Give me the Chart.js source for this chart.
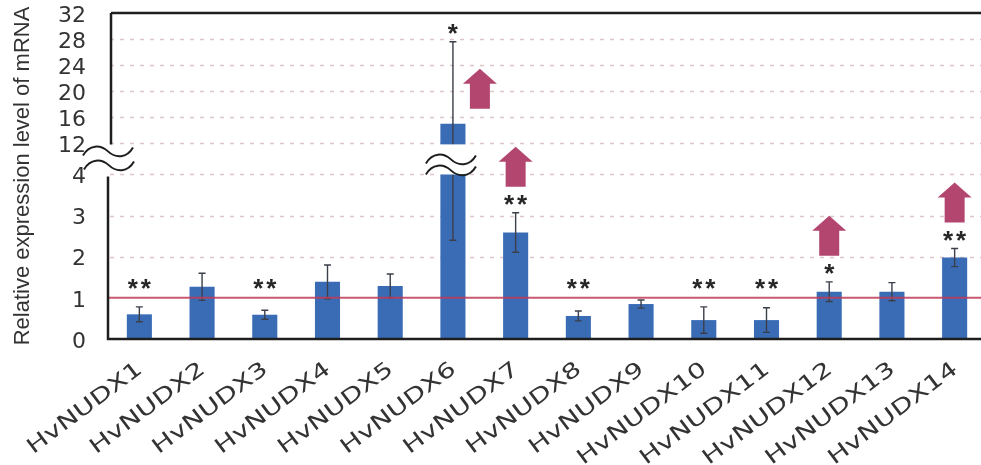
<!DOCTYPE html>
<html>
<head>
<meta charset="utf-8">
<script src="https://cdn.jsdelivr.net/npm/chart.js@4.4.1/dist/chart.umd.min.js"></script>
<style>
  html, body { margin: 0; padding: 0; background: #fff; overflow: hidden; }
  #wrap { position: relative; width: 990px; height: 465px; }
</style>
</head>
<body>
<div id="wrap"><canvas id="chart" width="990" height="465"></canvas></div>
<script>
// Relative mRNA expression of the barley NUDX genes
const genes = ['HvNUDX1', 'HvNUDX2', 'HvNUDX3', 'HvNUDX4', 'HvNUDX5', 'HvNUDX6', 'HvNUDX7',
               'HvNUDX8', 'HvNUDX9', 'HvNUDX10', 'HvNUDX11', 'HvNUDX12', 'HvNUDX13', 'HvNUDX14'];
const expression = [0.60, 1.27, 0.59, 1.39, 1.29, 15.0, 2.59, 0.56, 0.85, 0.46, 0.46, 1.15, 1.15, 1.98];
const errors     = [0.18, 0.33, 0.11, 0.41, 0.29, 12.6, 0.48, 0.12, 0.10, 0.32, 0.30, 0.24, 0.22, 0.22];
const significance = ['**', '', '**', '', '', '*', '**', '**', '', '**', '**', '*', '', '**'];
const upRegulated = ['HvNUDX6', 'HvNUDX7', 'HvNUDX12', 'HvNUDX14'];
const yTickValues = [0, 1, 2, 3, 4, 12, 16, 20, 24, 28, 32];
const referenceLevel = 1;

// Broken y axis: 0-4 on a full scale, 12-32 compressed above the break
const LOW_MAX = 4, HIGH_MIN = 12, HIGH_MAX = 32;
const BREAK_GAP = 0.756, HIGH_SCALE = 0.1585;
function toAxis(v) {
  if (v <= LOW_MAX) return v;
  if (v < HIGH_MIN) return LOW_MAX + (v - LOW_MAX) / (HIGH_MIN - LOW_MAX) * BREAK_GAP;
  return LOW_MAX + BREAK_GAP + (v - HIGH_MIN) * HIGH_SCALE;
}

const FONT = '"Liberation Sans", Arial, sans-serif';
const WIDE_FONT = '"DejaVu Sans", Verdana, sans-serif';

function tilde(ctx, cx, cy, half) {
  ctx.beginPath();
  ctx.moveTo(cx - half, cy + 4);
  ctx.bezierCurveTo(cx - half * 0.75, cy - 7, cx - half * 0.3, cy - 7, cx, cy);
  ctx.bezierCurveTo(cx + half * 0.3, cy + 7, cx + half * 0.75, cy + 7, cx + half, cy - 4);
  ctx.stroke();
}

function upArrow(ctx, cx, bottom) {
  const headW = 34, headH = 15, shaftW = 20, total = 40;
  const top = bottom - total;
  ctx.beginPath();
  ctx.moveTo(cx - shaftW / 2, bottom);
  ctx.lineTo(cx - shaftW / 2, top + headH);
  ctx.lineTo(cx - headW / 2, top + headH);
  ctx.lineTo(cx, top);
  ctx.lineTo(cx + headW / 2, top + headH);
  ctx.lineTo(cx + shaftW / 2, top + headH);
  ctx.lineTo(cx + shaftW / 2, bottom);
  ctx.closePath();
  ctx.fillStyle = '#b3466f';
  ctx.fill();
}

// Dotted gridlines beneath the bars
const backgroundPlugin = {
  id: 'backgroundLines',
  beforeDatasetsDraw(chart) {
    const { ctx, chartArea: a, scales: { y } } = chart;
    ctx.save();
    ctx.strokeStyle = '#dcc6c8';
    ctx.lineWidth = 1.6;
    ctx.setLineDash([4, 6]);
    yTickValues.forEach(v => {
      if (v === 0 || v === referenceLevel || v === HIGH_MAX) return;
      const py = Math.round(y.getPixelForValue(toAxis(v))) + 0.5;
      ctx.beginPath();
      ctx.moveTo(a.left + 2, py);
      ctx.lineTo(a.right, py);
      ctx.stroke();
    });
    ctx.restore();
  }
};

// Error bars, reference line, axis frame, break marks, stars, arrows and gene labels
const overlayPlugin = {
  id: 'overlay',
  afterDatasetsDraw(chart) {
    const { ctx, chartArea: a, scales: { x, y } } = chart;
    const meta = chart.getDatasetMeta(0);
    ctx.save();

    // error bars
    ctx.strokeStyle = '#3b3f4a';
    ctx.lineWidth = 1.4;
    const errTops = [];
    meta.data.forEach((bar, i) => {
      const yt = y.getPixelForValue(toAxis(expression[i] + errors[i]));
      const yb = y.getPixelForValue(toAxis(Math.max(0, expression[i] - errors[i])));
      errTops.push(yt);
      ctx.beginPath();
      ctx.moveTo(bar.x, yb);
      ctx.lineTo(bar.x, yt);
      ctx.moveTo(bar.x - 3.5, yt);
      ctx.lineTo(bar.x + 3.5, yt);
      ctx.moveTo(bar.x - 3.5, yb);
      ctx.lineTo(bar.x + 3.5, yb);
      ctx.stroke();
    });

    // reference line at 1
    const yRef = y.getPixelForValue(toAxis(referenceLevel));
    ctx.strokeStyle = 'rgba(192, 60, 88, 0.85)';
    ctx.lineWidth = 2;
    ctx.beginPath();
    ctx.moveTo(a.left, yRef);
    ctx.lineTo(a.right, yRef);
    ctx.stroke();

    // axis frame with a gap at the break
    const yLow = y.getPixelForValue(toAxis(LOW_MAX));
    const yHigh = y.getPixelForValue(toAxis(HIGH_MIN));
    ctx.strokeStyle = '#1e1e1e';
    ctx.lineWidth = 2.5;
    ctx.beginPath();
    ctx.moveTo(a.left + 3, a.top);
    ctx.lineTo(a.right, a.top);
    ctx.moveTo(a.left + 3, a.top);
    ctx.lineTo(a.left + 3, yHigh + 1);
    ctx.moveTo(a.left, yLow + 2);
    ctx.lineTo(a.left, a.bottom);
    ctx.lineTo(a.right, a.bottom);
    ctx.stroke();

    // break through tall bars
    meta.data.forEach((bar, i) => {
      if (expression[i] <= HIGH_MIN) return;
      ctx.fillStyle = '#fff';
      ctx.fillRect(bar.x - bar.width / 2 - 2, yHigh + 1, bar.width + 4, yLow - yHigh - 1);
      ctx.strokeStyle = '#1e1e1e';
      ctx.lineWidth = 2;
      tilde(ctx, bar.x - 2, yHigh + 16, 25);
      tilde(ctx, bar.x - 2, yHigh + 27, 25);
    });

    // break on the y axis
    ctx.strokeStyle = '#1e1e1e';
    ctx.lineWidth = 2;
    tilde(ctx, a.left, yHigh + 8, 25);
    tilde(ctx, a.left + 1, yHigh + 22, 25);

    // significance stars
    ctx.fillStyle = '#262626';
    ctx.font = 'bold 26px ' + FONT;
    ctx.textAlign = 'center';
    ctx.textBaseline = 'alphabetic';
    meta.data.forEach((bar, i) => {
      const s = significance[i];
      if (!s) return;
      const cy = Math.min(errTops[i] - 12, yRef - 13);
      const n = s.length;
      for (let k = 0; k < n; k++) {
        const sx = bar.x + (k - (n - 1) / 2) * 13;
        ctx.fillText('*', sx, cy + 12);
      }
    });

    // up-regulation arrows
    const step = x.getPixelForValue(1) - x.getPixelForValue(0);
    upRegulated.forEach(name => {
      const i = genes.indexOf(name);
      const bar = meta.data[i];
      if (expression[i] > HIGH_MIN) {
        upArrow(ctx, bar.x + step * 0.43, bar.y - 15);
      } else {
        const starY = Math.min(errTops[i] - 12, yRef - 13);
        upArrow(ctx, bar.x, starY - 14);
      }
    });

    // slanted, widened gene labels under each bar
    ctx.fillStyle = '#333';
    ctx.font = '21px ' + WIDE_FONT;
    ctx.textAlign = 'right';
    ctx.textBaseline = 'middle';
    genes.forEach((g, i) => {
      const px = x.getPixelForTick(i);
      ctx.save();
      ctx.translate(px + 1, a.bottom + 28);
      ctx.rotate(-37 * Math.PI / 180);
      ctx.scale(1.34, 1);
      ctx.fillText(g, 0, 0);
      ctx.restore();
    });

    ctx.restore();
  }
};

new Chart(document.getElementById('chart'), {
  type: 'bar',
  data: {
    labels: genes,
    datasets: [{
      data: expression.map(toAxis),
      backgroundColor: '#3a6cb6',
      borderWidth: 0,
      barPercentage: 0.4,
      categoryPercentage: 1.0
    }]
  },
  options: {
    responsive: false,
    animation: false,
    devicePixelRatio: 1,
    layout: { padding: { left: 0, top: 13, right: 4, bottom: 0 } },
    plugins: { legend: { display: false }, tooltip: { enabled: false } },
    scales: {
      x: {
        grid: { display: false, drawTicks: false },
        border: { display: false },
        ticks: { display: false },
        afterFit(scale) {
          scale.height = 126;
          scale.paddingLeft = 0;
          scale.paddingRight = 0;
        }
      },
      y: {
        min: 0,
        max: toAxis(HIGH_MAX),
        grid: { display: false, drawTicks: false },
        border: { display: false },
        afterBuildTicks(scale) {
          scale.ticks = yTickValues.map(v => ({ value: toAxis(v) }));
        },
        ticks: {
          padding: 22,
          labelOffset: 3,
          color: '#333',
          font: { family: WIDE_FONT, size: 22 },
          callback: (val, idx) => String(yTickValues[idx])
        },
        title: {
          display: true,
          text: 'Relative expression level of mRNA',
          color: '#333',
          font: { family: FONT, size: 22 },
          padding: { top: 10, bottom: 0 }
        },
        afterFit(scale) {
          scale.width = 108;
          scale.paddingTop = 0;
          scale.paddingBottom = 0;
        }
      }
    }
  },
  plugins: [backgroundPlugin, overlayPlugin]
});
</script>
</body>
</html>
